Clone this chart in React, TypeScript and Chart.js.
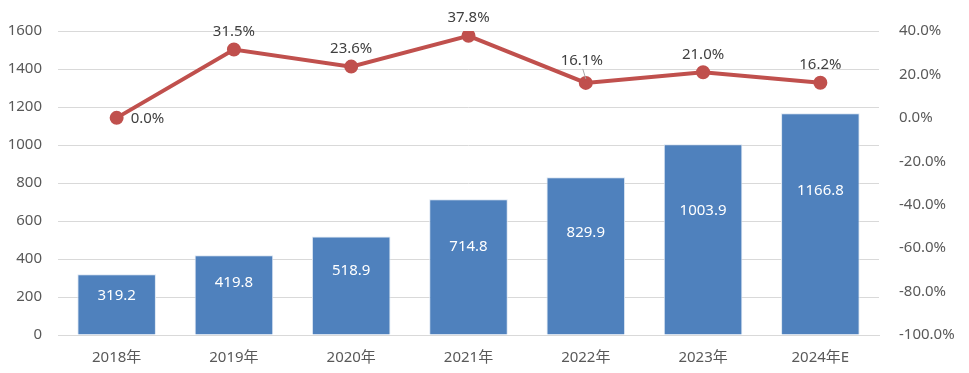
import React, { useEffect, useRef } from "react";
import { Chart, registerables } from "chart.js";

Chart.register(...registerables);

const categories = ["2018年", "2019年", "2020年", "2021年", "2022年", "2023年", "2024年E"];
const revenue = [319.2, 419.8, 518.9, 714.8, 829.9, 1003.9, 1166.8];
const growth = [0.0, 31.5, 23.6, 37.8, 16.1, 21.0, 16.2];
const leftTicks = [0, 200, 400, 600, 800, 1000, 1200, 1400, 1600];
const rightTicks = [-100, -80, -60, -40, -20, 0, 20, 40];

const FONT = "'Noto Sans', 'Noto Sans CJK SC', sans-serif";

const labelPlugin = {
  id: "labels",
  afterDatasetsDraw(chart: any) {
    const ctx = chart.ctx;
    const yL = chart.scales.y;
    const barMeta = chart.getDatasetMeta(1);
    const lineMeta = chart.getDatasetMeta(0);
    ctx.save();
    ctx.font = `15px ${FONT}`;
    ctx.textAlign = "center";
    ctx.textBaseline = "middle";
    ctx.fillStyle = "#ffffff";
    revenue.forEach((v, i) => {
      const x = barMeta.data[i].x;
      const y = yL.getPixelForValue(v * 0.65);
      ctx.fillText(v.toFixed(1), x, y);
    });
    ctx.fillStyle = "#404040";
    growth.forEach((v, i) => {
      const p = lineMeta.data[i];
      const txt = v.toFixed(1) + "%";
      if (i === 0) {
        ctx.textAlign = "left";
        ctx.fillText(txt, p.x + 14, p.y + 1);
        ctx.textAlign = "center";
      } else if (i === 4) {
        ctx.strokeStyle = "#a6a6a6";
        ctx.lineWidth = 1;
        ctx.beginPath();
        ctx.moveTo(p.x - 3, p.y - 14);
        ctx.lineTo(p.x, p.y - 4);
        ctx.stroke();
        ctx.fillText(txt, p.x - 4, p.y - 22);
      } else {
        ctx.fillText(txt, p.x, p.y - 18);
      }
    });
    ctx.restore();
  },
};

export default function App() {
  const ref = useRef<HTMLCanvasElement>(null);
  useEffect(() => {
    document.body.style.margin = "0";
    const chart = new Chart(ref.current!, {
      type: "bar",
      data: {
        labels: categories,
        datasets: [
          {
            type: "line",
            data: growth,
            yAxisID: "y1",
            borderColor: "#c0504d",
            backgroundColor: "#c0504d",
            borderWidth: 4,
            pointRadius: 5,
            pointBackgroundColor: "#c0504d",
            pointBorderColor: "#c0504d",
            tension: 0,
            order: 0,
          } as any,
          {
            type: "bar",
            data: revenue,
            yAxisID: "y",
            backgroundColor: "#4f81bd",
            borderColor: "#dce6f2",
            borderWidth: 1,
            categoryPercentage: 0.67,
            barPercentage: 1,
            order: 1,
          },
        ],
      },
      options: {
        animation: false,
        responsive: false,
        layout: { padding: { top: 31, left: 0, right: 0, bottom: 0 } },
        plugins: { legend: { display: false }, tooltip: { enabled: false } },
        scales: {
          x: {
            grid: { display: false },
            border: { display: true, color: "#d9d9d9" },
            ticks: { color: "#595959", font: { size: 15, family: FONT }, padding: 6 },
            afterFit: (s: any) => { s.height = 38; },
          },
          y: {
            position: "left",
            min: 0,
            max: 1600,
            afterBuildTicks: (s: any) => { s.ticks = leftTicks.map((v) => ({ value: v })); },
            grid: { color: "#d9d9d9", drawTicks: false },
            border: { display: false },
            ticks: {
              color: "#595959",
              font: { size: 15, family: FONT },
              padding: 16,
              callback: (v: any) => String(v),
            },
            afterFit: (s: any) => { s.width = 58; },
          },
          y1: {
            position: "right",
            min: -100,
            max: 40,
            afterBuildTicks: (s: any) => { s.ticks = rightTicks.map((v) => ({ value: v })); },
            grid: { display: false },
            border: { display: false },
            ticks: {
              color: "#595959",
              font: { size: 15, family: FONT },
              padding: 12,
              callback: (v: any) => Number(v).toFixed(1) + "%",
            },
            afterFit: (s: any) => { s.width = 90; },
          },
        },
      },
      plugins: [labelPlugin],
    });
    return () => chart.destroy();
  }, []);
  return <canvas ref={ref} width={969} height={373} style={{ display: "block" }} />;
}
